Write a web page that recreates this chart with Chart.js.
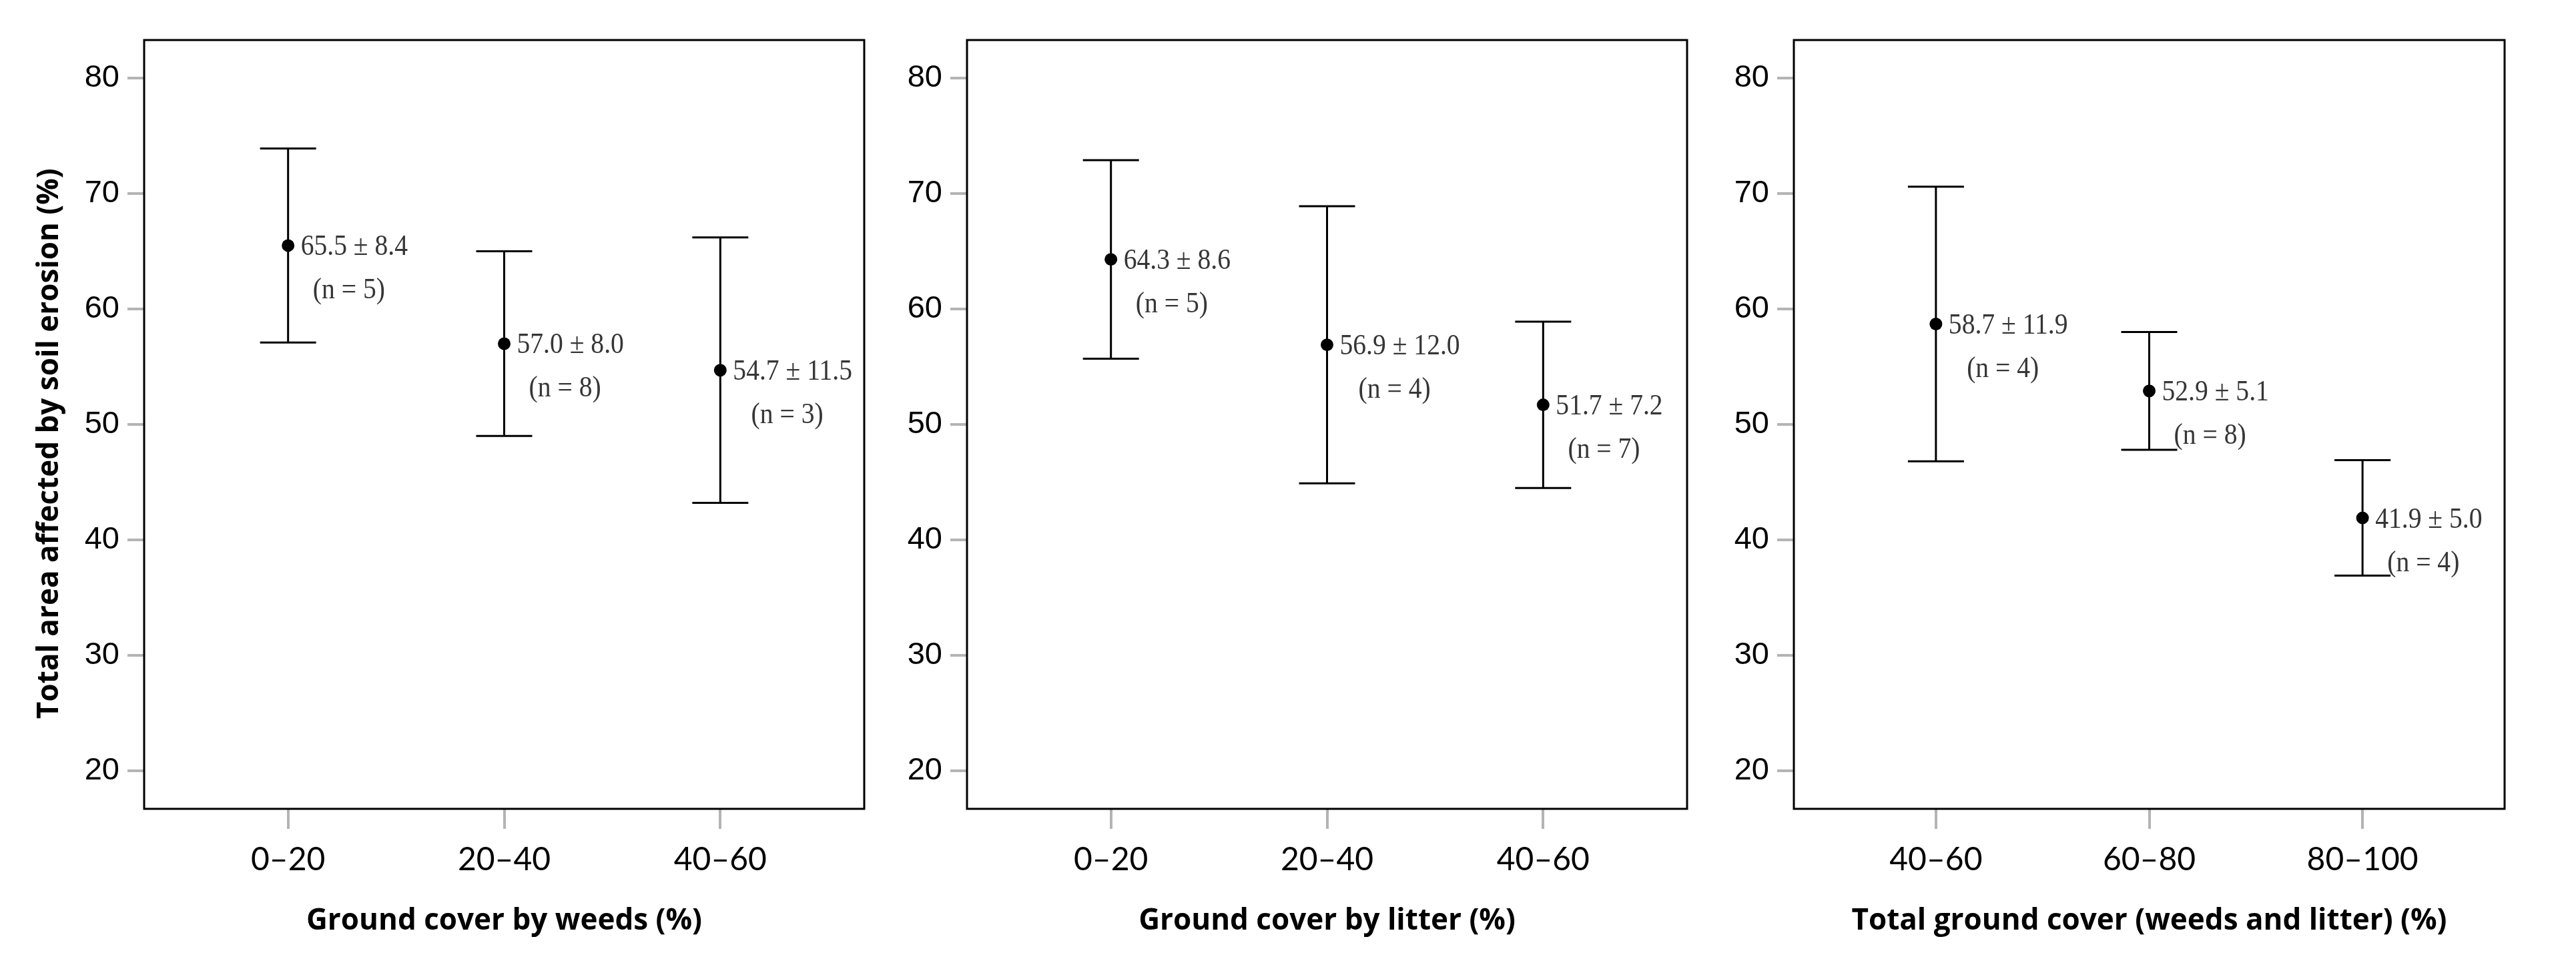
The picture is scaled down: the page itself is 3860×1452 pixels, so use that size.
<!DOCTYPE html>
<html>
<head>
<meta charset="utf-8">
<script src="https://cdn.jsdelivr.net/npm/chart.js@4.4.1/dist/chart.umd.min.js"></script>
<style>
  html, body { margin: 0; padding: 0; background: #fff; }
  body { width: 3860px; height: 1452px; position: relative; overflow: hidden; }
  canvas { position: absolute; top: 0; }
</style>
</head>
<body>
<canvas id="c1" width="1340" height="1452" style="left:0px"></canvas>
<canvas id="c2" width="1233" height="1452" style="left:1340px"></canvas>
<canvas id="c3" width="1223" height="1452" style="left:2575px"></canvas>
<script>
// ground cover by weeds
const weedClasses = ["0–20", "20–40", "40–60"];
const weedMeans = [65.5, 57.0, 54.7];
const weedSD = [8.4, 8.0, 11.5];
const weedN = [5, 8, 3];

// ground cover by litter
const litterClasses = ["0–20", "20–40", "40–60"];
const litterMeans = [64.3, 56.9, 51.7];
const litterSD = [8.6, 12.0, 7.2];
const litterN = [5, 4, 7];

// total ground cover
const totalClasses = ["40–60", "60–80", "80–100"];
const totalMeans = [58.7, 52.9, 41.9];
const totalSD = [11.9, 5.1, 5.0];
const totalN = [4, 8, 4];

const yTicks = [20, 30, 40, 50, 60, 70, 80];
// trailing nbsp nudges the rotated title a bit lower, like the original
const yTitle = "Total area affected by soil erosion (%)\u00a0\u00a0\u00a0\u00a0\u00a0";

const TICK_GREY = "#b4b4b4";
const TITLE_FONT = { family: "'Open Sans'", size: 44, weight: "bold" };

const frame = {
  id: "frame",
  afterDraw(chart) {
    const { ctx, chartArea: a } = chart;
    ctx.save();
    ctx.strokeStyle = "#000";
    ctx.lineWidth = 3;
    ctx.strokeRect(a.left, a.top, a.right - a.left, a.bottom - a.top);
    ctx.restore();
  },
};

function makePanel(id, classes, means, sd, n, xTitle, axisW, withYTitle) {
  const stems = classes.flatMap((_, i) => [
    { x: i, y: means[i] - sd[i] },
    { x: i, y: means[i] + sd[i] },
    { x: i, y: null },
  ]);
  const caps = classes.flatMap((_, i) => [
    { x: i, y: means[i] - sd[i] },
    { x: i, y: means[i] + sd[i] },
  ]);
  const dots = classes.map((_, i) => ({ x: i, y: means[i] }));

  // "mean ± sd" and "(n = ..)" next to each point, slightly condensed serif
  const statLabels = {
    id: "statLabels",
    afterDatasetsDraw(chart) {
      const { ctx, scales } = chart;
      const sx = 0.9;
      ctx.save();
      ctx.fillStyle = "#363636";
      ctx.font = "44px 'Liberation Serif'";
      ctx.textBaseline = "middle";
      means.forEach((m, i) => {
        const px = scales.x.getPixelForValue(i);
        const py = scales.y.getPixelForValue(m);
        const line1 = `${m.toFixed(1)} ± ${sd[i].toFixed(1)}`;
        const line2 = `(n = ${n[i]})`;
        const w1 = ctx.measureText(line1).width * sx;
        const x1 = px + 19;
        const c2 = x1 + w1 / 2 - 8;
        ctx.save();
        ctx.translate(x1, py + 3);
        ctx.scale(sx, 1);
        ctx.textAlign = "left";
        ctx.fillText(line1, 0, 0);
        ctx.restore();
        ctx.save();
        ctx.translate(c2, py + 68);
        ctx.scale(sx, 1);
        ctx.textAlign = "center";
        ctx.fillText(line2, 0, 0);
        ctx.restore();
      });
      ctx.restore();
    },
  };

  return new Chart(document.getElementById(id), {
    type: "scatter",
    data: {
      datasets: [
        {
          data: stems,
          showLine: true,
          spanGaps: false,
          borderColor: "#000",
          borderWidth: 3,
          pointRadius: 0,
        },
        {
          data: caps,
          pointStyle: "line",
          pointRadius: 42,
          borderColor: "#000",
          borderWidth: 3,
        },
        {
          data: dots,
          pointStyle: "circle",
          pointRadius: 9.5,
          backgroundColor: "#000",
          borderColor: "#000",
          borderWidth: 0,
        },
      ],
    },
    options: {
      responsive: false,
      animation: false,
      events: [],
      layout: { padding: { top: 60, right: 4, bottom: 0, left: 0 } },
      plugins: { legend: { display: false }, tooltip: { enabled: false } },
      scales: {
        x: {
          type: "linear",
          min: -0.666,
          max: 2.666,
          afterBuildTicks: (s) => {
            s.ticks = classes.map((_, i) => ({ value: i }));
          },
          afterFit: (s) => {
            s.height = 240;
          },
          ticks: {
            callback: (v) => classes[v],
            font: { family: "Lato", size: 48 },
            color: "#000",
            padding: 18,
            maxRotation: 0,
            autoSkip: false,
          },
          grid: { drawOnChartArea: false, tickLength: 30, color: TICK_GREY, lineWidth: 4 },
          border: { display: false },
          title: {
            display: true,
            text: xTitle,
            color: "#000",
            font: TITLE_FONT,
            padding: { top: 0, bottom: 45 },
          },
        },
        y: {
          min: 16.7,
          max: 83.3,
          afterBuildTicks: (s) => {
            s.ticks = yTicks.map((v) => ({ value: v }));
          },
          afterFit: (s) => {
            s.width = axisW;
          },
          ticks: {
            font: { family: "'Liberation Sans'", size: 47 },
            color: "#000",
            padding: 12,
          },
          grid: { drawOnChartArea: false, tickLength: 25, color: TICK_GREY, lineWidth: 4 },
          border: { display: false },
          title: {
            display: withYTitle,
            text: yTitle,
            color: "#000",
            font: TITLE_FONT,
            padding: { top: 48, bottom: 0 },
          },
        },
      },
    },
    plugins: [frame, statLabels],
  });
}

makePanel("c1", weedClasses, weedMeans, weedSD, weedN, "Ground cover by weeds (%)", 216, true);
makePanel("c2", litterClasses, litterMeans, litterSD, litterN, "Ground cover by litter (%)", 109, false);
makePanel("c3", totalClasses, totalMeans, totalSD, totalN, "Total ground cover (weeds and litter) (%)", 113, false);
</script>
</body>
</html>
